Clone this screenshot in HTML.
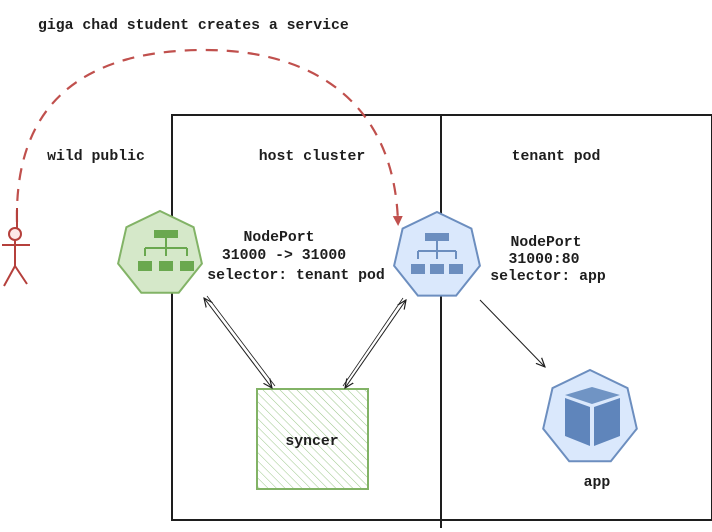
<!DOCTYPE html>
<html><head><meta charset="utf-8"><style>
html,body{margin:0;padding:0;background:#fff;}
svg{display:block;}
text{font-family:"Liberation Mono",monospace;font-weight:bold;font-size:14.8px;fill:#1e1e1e;}
</style></head><body>
<svg width="712" height="532" viewBox="0 0 712 532" xmlns="http://www.w3.org/2000/svg">
<defs>
<pattern id="h" width="6" height="6" patternUnits="userSpaceOnUse" patternTransform="rotate(-45)">
<line x1="0" y1="0" x2="0" y2="6" stroke="#9cc78a" stroke-width="1"/>
</pattern>
<marker id="a" markerWidth="10" markerHeight="10" refX="9" refY="5" orient="auto-start-reverse" markerUnits="userSpaceOnUse">
<path d="M0,1 L9,5 L0,9" fill="none" stroke="#1e1e1e" stroke-width="1.2"/>
</marker>
<marker id="r" markerWidth="12" markerHeight="12" refX="6" refY="6" orient="auto" markerUnits="userSpaceOnUse">
<path d="M0,1 L10,6 L0,11 Z" fill="#c0504d"/>
</marker>
</defs>
<text x="38" y="29">giga chad student creates a service</text>
<rect x="172" y="115" width="540" height="405" fill="none" stroke="#1e1e1e" stroke-width="2"/>
<line x1="441" y1="115" x2="441" y2="528" stroke="#1e1e1e" stroke-width="2"/>
<g text-anchor="middle">
<text x="96" y="160">wild public</text>
<text x="312" y="160">host cluster</text>
<text x="556" y="160">tenant pod</text>
</g>
<path d="M17,222 C14,90 100,50 205,50 C310,50 394,100 398,222" fill="none" stroke="#c0504d" stroke-width="2.2" stroke-dasharray="12,9" marker-end="url(#r)"/>
<g stroke="#b5403c" stroke-width="2" fill="none">
<line x1="17" y1="208" x2="17" y2="228"/>
<circle cx="15" cy="234" r="6" fill="#fde8e8"/>
<line x1="15" y1="240" x2="15" y2="266"/>
<line x1="2" y1="245" x2="30" y2="245"/>
<line x1="15" y1="266" x2="4" y2="286"/>
<line x1="15" y1="266" x2="27" y2="284"/>
</g>
<polygon points="160,211 193.6,227.2 201.9,263.6 178.7,292.7 141.3,292.7 118.1,263.6 126.4,227.2" fill="#d5e8c9" stroke="#82b366" stroke-width="2"/>
<g fill="#6aa84f" stroke="#6aa84f">
<rect x="154" y="230" width="24" height="8" stroke="none"/>
<path d="M166,238 V248 M145,248 H187 M145,248 V256 M166,248 V256 M187,248 V256" fill="none" stroke-width="2"/>
<rect x="138" y="261" width="14" height="10" stroke="none"/>
<rect x="159" y="261" width="14" height="10" stroke="none"/>
<rect x="180" y="261" width="14" height="10" stroke="none"/>
</g>
<g text-anchor="middle">
<text x="279" y="241">NodePort</text>
<text x="284" y="259">31000 -&gt; 31000</text>
<text x="296" y="279">selector: tenant pod</text>
<text x="546" y="246">NodePort</text>
<text x="544" y="263">31000:80</text>
<text x="548" y="280">selector: app</text>
</g>
<polygon points="437,212 471.4,228.6 479.9,265.8 456.1,295.6 417.9,295.6 394.1,265.8 402.6,228.6" fill="#dae8fc" stroke="#6c8ebf" stroke-width="2"/>
<g fill="#6c8ebf" stroke="#6c8ebf">
<rect x="425" y="233" width="24" height="8" stroke="none"/>
<path d="M437,241 V251 M418,251 H456 M418,251 V259 M437,251 V259 M456,251 V259" fill="none" stroke-width="2"/>
<rect x="411" y="264" width="14" height="10" stroke="none"/>
<rect x="430" y="264" width="14" height="10" stroke="none"/>
<rect x="449" y="264" width="14" height="10" stroke="none"/>
</g>
<polygon points="590,370 627.5,388.1 636.8,428.7 610.8,461.2 569.2,461.2 543.2,428.7 552.5,388.1" fill="#dae8fc" stroke="#6c8ebf" stroke-width="2"/>
<path d="M565,395 L592,387 L620,395 L592,404 Z" fill="#7094c4"/>
<path d="M565,398 L590,407 L590,446 L565,436 Z" fill="#5f85bb"/>
<path d="M594,407 L620,398 L620,436 L594,446 Z" fill="#5f85bb"/>
<text x="597" y="486" text-anchor="middle">app</text>
<rect x="257" y="389" width="111" height="100" fill="url(#h)" stroke="#82b366" stroke-width="2"/>
<text x="312" y="445" text-anchor="middle">syncer</text>
<line x1="204" y1="298" x2="272" y2="388" stroke="#1e1e1e" stroke-width="1" marker-start="url(#a)" marker-end="url(#a)"/>
<line x1="207" y1="296" x2="275" y2="386" stroke="#1e1e1e" stroke-width="0.8"/>
<line x1="406" y1="300" x2="345" y2="388" stroke="#1e1e1e" stroke-width="1" marker-start="url(#a)" marker-end="url(#a)"/>
<line x1="403" y1="298" x2="343" y2="386" stroke="#1e1e1e" stroke-width="0.8"/>
<line x1="480" y1="300" x2="545" y2="367" stroke="#1e1e1e" stroke-width="1" marker-end="url(#a)"/>
</svg>
</body></html>
